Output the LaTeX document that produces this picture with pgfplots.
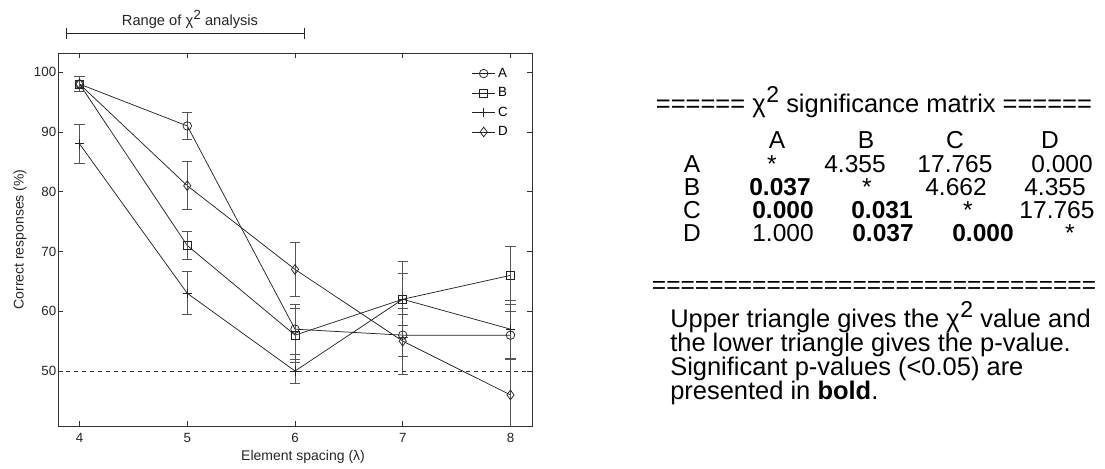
\documentclass[border=0pt]{standalone}
\usepackage{pgfplots}
\pgfplotsset{compat=1.18}
\usepackage{graphicx}
\usepackage{fontspec}
\setmainfont{Liberation Sans}

% chi-squared with a raised, slightly reduced 2
\newcommand{\chisq}{χ\kern0.03em\raisebox{0.38em}{\scalebox{0.9}{2}}}
\newcommand{\tabfont}{\fontsize{18.4}{22}\selectfont}
\newcommand{\notefont}{\fontsize{19.1}{22}\selectfont}

\definecolor{linegray}{HTML}{222222}
\definecolor{errgray}{HTML}{555555}

% Correct responses per element spacing: x, mean, half-width of error bar
\pgfplotstableread{
x   y    e
4   98   1.3
5   91   2.3
6   57   4.2
7   56   3.5
8   56   4.0
}\tabA
\pgfplotstableread{
x   y    e
4   98   1.3
5   71   2.3
6   56   4.5
7   62   6.4
8   66   4.8
}\tabB
\pgfplotstableread{
x   y    e
4   88   3.3
5   63   3.6
6   50   2.0
7   62   4.3
8   57   4.9
}\tabC
\pgfplotstableread{
x   y    e
4   98   1.3
5   81   4.0
6   67   4.5
7   55   5.5
8   46   6.0
}\tabD

\begin{document}
\begin{tikzpicture}
\begin{scope}[x=0.75pt,y=-0.75pt]
  \useasboundingbox (0,0) rectangle (1105,468);
\end{scope}

\begin{axis}[
  at={(43.5pt,-319.5pt)}, anchor=south west,
  scale only axis, width=355.5pt, height=279.75pt,
  xmin=3.8, xmax=8.2, ymin=40.8, ymax=103.2,
  xtick={4,5,6,7,8}, ytick={50,60,70,80,90,100},
  tick align=inside, tick pos=both,
  major tick length=3.5pt,
  axis line style={black!80, line width=0.6pt},
  tick style={black!80, line width=0.5pt},
  ticklabel style={font=\fontsize{10}{12}\selectfont, text=black!85},
  xticklabel style={yshift=-2pt},
  yticklabel style={xshift=2.2pt},
  /pgf/number format/assume math mode=true,
  xlabel={Element spacing (λ)},
  ylabel={Correct responses (\%)},
  label style={font=\fontsize{10.5}{12}\selectfont, text=black!85},
  xlabel style={at={(axis description cs:0.517,-0.083)}, anchor=center},
  ylabel style={at={(axis description cs:-0.080,0.5)}, anchor=center},
  legend style={draw=none, fill=none, at={(1,1)}, anchor=north east,
    xshift=-13pt, yshift=-7pt, font=\fontsize{10}{12}\selectfont,
    row sep=2.2pt},
  legend cell align=left,
  every axis plot/.append style={
    linegray, line width=0.55pt,
    mark options={solid, fill=none, line width=0.55pt},
    error bars/y dir=both, error bars/y explicit,
    error bars/error bar style={errgray, line width=0.55pt},
    error bars/error mark options={errgray, rotate=90, mark size=3.8pt, line width=0.55pt},
  },
]
  \addplot[mark=o, mark size=3.2pt] table[x=x, y=y, y error=e] {\tabA};
  \addlegendentry{A}
  \addplot[mark=square, mark size=3pt] table[x=x, y=y, y error=e] {\tabB};
  \addlegendentry{B}
  \addplot[mark=+, mark size=3.5pt] table[x=x, y=y, y error=e] {\tabC};
  \addlegendentry{C}
  \addplot[mark=diamond, mark size=3.6pt] table[x=x, y=y, y error=e] {\tabD};
  \addlegendentry{D}
  % chance level
  \addplot[black!80, dashed, line width=0.5pt, mark=none, forget plot,
    error bars/y dir=none] coordinates {(3.8,50) (8.2,50)};
\end{axis}

\begin{scope}[x=0.75pt,y=-0.75pt]
  % span of spacings included in the chi-squared test
  \draw[black!85, line width=0.6pt] (66.7,33.3) -- (304.3,33.3);
  \draw[black!85, line width=0.6pt] (66.7,28) -- (66.7,39);
  \draw[black!85, line width=0.6pt] (304.3,28) -- (304.3,39);
  \node[anchor=base, font=\fontsize{11}{13}\selectfont, text=black!85] at (190,25) {Range of \chisq\ analysis};

  % significance matrix
  \begin{scope}[every node/.style={anchor=base, font=\tabfont, inner sep=0pt}]
    \node[font=\notefont] at (874,112) {====== \chisq\ significance matrix ======};
    \node at (777,148) {A};
    \node at (866,148) {B};
    \node at (955,148) {C};
    \node at (1050,148) {D};

    \node at (692,172) {A};
    \node at (772,172) {*};
    \node at (855,172) {4.355};
    \node at (955,172) {17.765};
    \node at (1062,172) {0.000};

    \node at (692,195) {B};
    \node at (780,195) {\bfseries 0.037};
    \node at (867,195) {*};
    \node at (956,195) {4.662};
    \node at (1055,195) {4.355};

    \node at (692,218) {C};
    \node at (783,218) {\bfseries 0.000};
    \node at (882,218) {\bfseries 0.031};
    \node at (968,218) {*};
    \node at (1057,218) {17.765};

    \node at (692,241) {D};
    \node at (783,241) {1.000};
    \node at (883,241) {\bfseries 0.037};
    \node at (983,241) {\bfseries 0.000};
    \node at (1070,241) {*};

    \node at (874,293) {===============================};

    \begin{scope}[every node/.append style={anchor=base west, font=\notefont}]
      \node at (670,327) {Upper triangle gives the \chisq\ value and};
      \node at (670,351) {the lower triangle gives the p-value.};
      \node at (670,375) {Significant p-values (<0.05) are};
      \node at (670,399) {presented in \textbf{bold}.};
    \end{scope}
  \end{scope}
\end{scope}
\end{tikzpicture}
\end{document}
